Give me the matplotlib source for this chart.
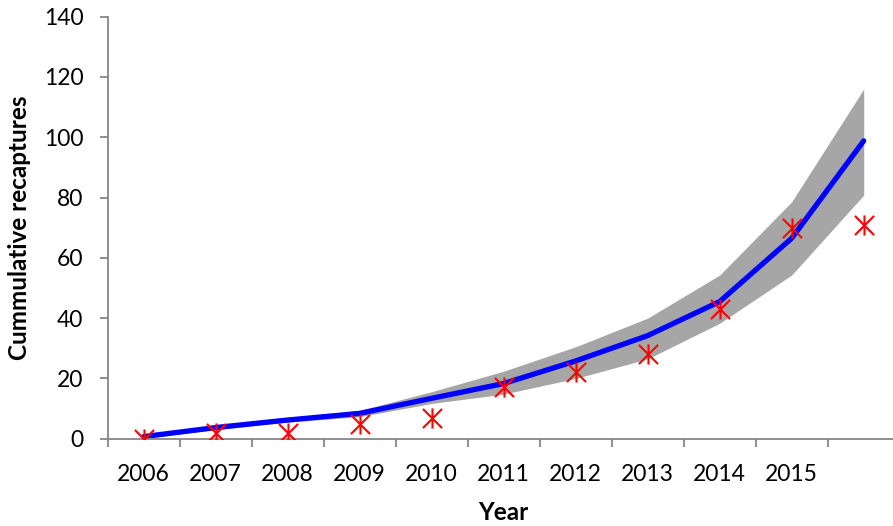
import matplotlib
matplotlib.use("Agg")
import matplotlib.pyplot as plt
from matplotlib.path import Path
import numpy as np

plt.rcParams['font.family'] = ['Lato', 'DejaVu Sans']

# categories (last one has no label in the original)
years = ["2006", "2007", "2008", "2009", "2010", "2011", "2012", "2013", "2014", "2015", ""]
observed = [0, 2, 2, 5, 7, 17, 22, 28, 43, 70, 71]
predicted = [0.7, 3.7, 6.2, 8.4, 13.4, 18.3, 25.8, 34.2, 45.5, 66.5, 98.8]
upper = [1.4, 4.4, 6.9, 9.4, 15.6, 22.4, 30.5, 40.0, 54.3, 78.6, 116.0]
lower = [0.1, 3.0, 5.5, 7.3, 11.7, 14.8, 20.0, 26.5, 38.3, 54.3, 80.8]

x = np.arange(len(years))

# asterisk marker like the spreadsheet one: X plus vertical stroke
star = Path([(0, -1), (0, 1), (-0.95, -0.95), (0.95, 0.95), (-0.95, 0.95), (0.95, -0.95)],
            [Path.MOVETO, Path.LINETO] * 3)

fig = plt.figure(figsize=(8.93, 5.26), dpi=100)
ax = fig.add_axes([107.7 / 893, 87.3 / 526, 792 / 893, 422 / 526])

ax.fill_between(x, lower, upper, color="#A6A6A6", linewidth=0, zorder=1)
ax.plot(x, predicted, color="#0000FF", linewidth=3.8, solid_capstyle="round", zorder=2)
ax.plot(x, observed, linestyle="none", marker=star, markersize=14.5,
        markeredgecolor="#FF0000", markerfacecolor="none", markeredgewidth=1.5, zorder=3)

ax.set_xlim(-0.5, len(years) - 0.5)
ax.set_ylim(0, 140)
ax.set_yticks(range(0, 141, 20))
ax.set_xticks(np.arange(-0.5, len(years), 1.0))
ax.set_xticklabels([])
ax.set_xticks(x, minor=True)
ax.set_xticklabels(years, minor=True)

grey = "#868686"
for s in ["top", "right"]:
    ax.spines[s].set_visible(False)
for s in ["left", "bottom"]:
    ax.spines[s].set_color(grey)
    ax.spines[s].set_linewidth(1.3)

ax.tick_params(axis="both", which="major", direction="out", length=5.5, width=1.3,
               color=grey, labelsize=16.5, pad=12)
ax.tick_params(axis="x", which="minor", length=0, labelsize=16.5, pad=18)

ax.set_ylabel("Cummulative recaptures", fontsize=17.5, fontweight="bold", labelpad=9)
ax.set_xlabel("Year", fontsize=17.5, fontweight="bold", labelpad=12)

fig.savefig("out.png", dpi=100)
